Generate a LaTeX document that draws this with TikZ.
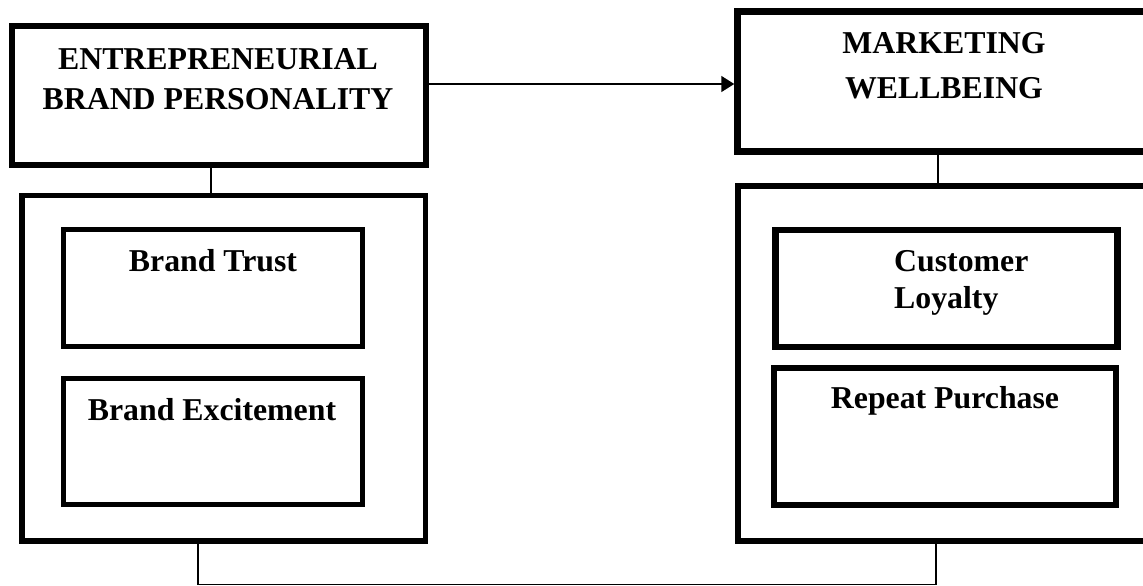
\documentclass[tikz,border=0pt]{standalone}
\usepackage{fontspec}
\setmainfont{Liberation Serif}
\usetikzlibrary{arrows.meta,calc}
\begin{document}
\begin{tikzpicture}[x=1pt,y=-1pt,
  box/.style={draw=black,inner sep=0pt,outer sep=0pt,fill=none},
  lbl/.style={inner sep=0pt,anchor=base,font=\bfseries\fontsize{31.8}{40}\selectfont},
  conn/.style={draw=black,line width=1.6pt},
  arr/.style={conn,-{Triangle[length=13pt,width=16pt]}}]
\clip (0,0) rectangle (1143,586);
\fill[white] (0,0) rectangle (1143,586);
% boxes
\node[box,line width=6pt,minimum width=414pt,minimum height=139pt] (EBP) at (218.5,95.5) {};
\node[box,line width=5.5pt,minimum width=403.5pt,minimum height=345.5pt] (LC) at (223.75,368.25) {};
\node[box,line width=5pt,minimum width=299pt,minimum height=117pt] (BT) at (213,288) {};
\node[box,line width=5pt,minimum width=299pt,minimum height=126pt] (BE) at (213,441.5) {};
\node[box,line width=6.5pt,minimum width=412.5pt,minimum height=140pt] (MW) at (943.75,81.5) {};
\node[box,line width=6pt,minimum width=412.5pt,minimum height=355pt] (RC) at (943.75,363.5) {};
\node[box,line width=6.5pt,minimum width=342pt,minimum height=117pt] (CL) at (946.5,288.5) {};
\node[box,line width=6pt,minimum width=342pt,minimum height=137pt] (RP) at (944.5,436.5) {};
% texts (base anchor = baseline of last line)
\node[lbl,align=center] (tEBP) at (218,110) {ENTREPRENEURIAL\\BRAND PERSONALITY};
\node[lbl,align=center,font=\bfseries\fontsize{31.8}{44}\selectfont] (tMW) at (944,98) {MARKETING\\WELLBEING};
\node[lbl] (tBT) at (213,271) {Brand Trust};
\node[lbl] (tBE) at (212,420) {Brand Excitement};
\node[lbl,anchor=base west,align=left,font=\bfseries\fontsize{31.8}{37}\selectfont] (tCL) at (894,308) {Customer\\Loyalty};
\node[lbl] (tRP) at (945,408) {Repeat Purchase};
% connectors
\path (EBP.east) ++(0,-11.5) coordinate (a1);
\draw[arr,shorten >=3.25pt] (a1) -- (a1 -| MW.west);
\draw[conn] ([xshift=-7.5pt]EBP.south) -- ([xshift=-7.5pt]EBP.south |- LC.north);
\draw[conn] ([xshift=-5.75pt]MW.south) -- ([xshift=-5.75pt]MW.south |- RC.north);
\coordinate (bl) at ($(LC.south)+(-25.75,43.5)$);
\coordinate (br) at ($(RC.south)+(-7.75,43.5)$);
\draw[conn] ([xshift=-25.75pt]LC.south) -- (bl) -- (br) -- ([xshift=-7.75pt]RC.south);
\end{tikzpicture}
\end{document}
